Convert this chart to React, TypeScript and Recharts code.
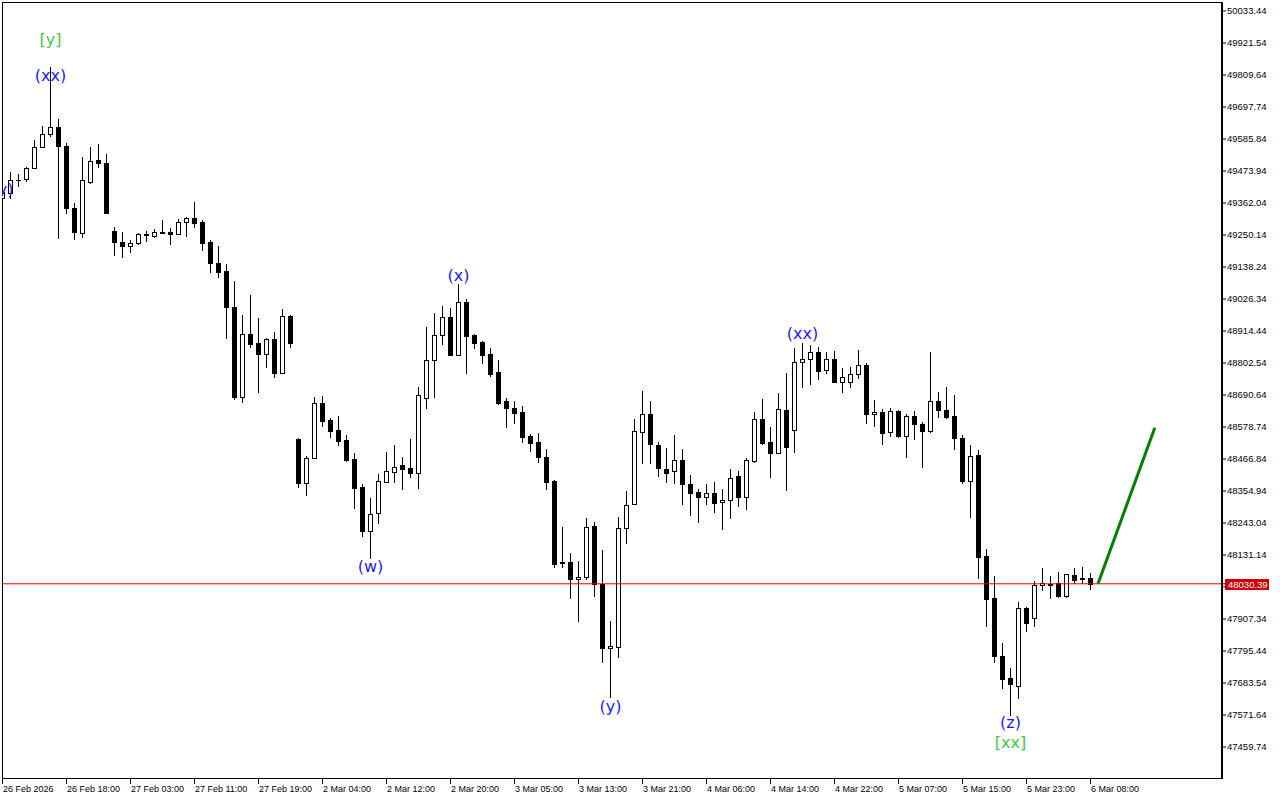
import React from 'react';
import { ComposedChart, Bar, XAxis, YAxis, ReferenceLine, ReferenceArea, Scatter } from 'recharts';

// H1 candles, index 0 = 26 Feb 2026 09:00
const opens = [
  49379.6, 49397.1, 49442.6, 49446.1, 49484.6, 49557.7, 49603.2, 49627.7, 49561.2, 49344.6,
  49257.1, 49435.6, 49512.6, 49502.1, 49264.1, 49225.6, 49211.6, 49222.1, 49251.9, 49246.6,
  49258.9, 49260.6, 49253.6, 49295.6, 49309.6, 49295.6, 49225.6, 49152.1, 49124.1, 48998.6,
  48683.6, 48904.1, 48872.6, 48834.1, 48886.6, 48767.6, 48967.1, 48536.6, 48383.0, 48470.5,
  48662.6, 48603.1, 48568.1, 48533.1, 48467.0, 48369.0, 48215.0, 48278.0, 48386.5, 48421.5,
  48446.0, 48435.5, 48418.0, 48680.1, 48813.1, 48900.6, 48963.6, 48830.6, 49016.1, 48900.6,
  48876.1, 48834.1, 48771.1, 48669.6, 48645.1, 48631.1, 48547.1, 48526.1, 48474.0, 48390.0,
  48108.3, 48106.5, 48047.0, 48054.0, 48232.5, 48029.5, 47805.9, 47809.4, 48225.5, 48309.5,
  48561.1, 48624.1, 48515.6, 48432.0, 48425.0, 48463.5, 48379.5, 48351.5, 48334.0, 48348.0,
  48316.5, 48323.5, 48407.5, 48334.0, 48460.0, 48606.6, 48526.1, 48488.0, 48638.1, 48568.1,
  48806.1, 48816.6, 48841.1, 48778.1, 48816.6, 48736.1, 48736.1, 48764.1, 48795.6, 48624.1,
  48631.1, 48561.1, 48634.6, 48547.1, 48617.1, 48589.1, 48564.6, 48669.6, 48638.1, 48617.1,
  48540.1, 48390.0, 48481.0, 48127.5, 47980.5, 47777.9, 47700.9, 47672.9, 47945.9, 47910.9,
  48026.0, 48029.5, 48033.0, 47987.5, 48061.0, 48050.5, 48050.5,
];
const highs = [
  49407.6, 49470.6, 49463.6, 49488.1, 49582.2, 49631.2, 49837.7, 49655.7, 49571.7, 49362.1,
  49523.1, 49557.7, 49568.2, 49533.6, 49278.1, 49260.6, 49232.6, 49257.1, 49264.1, 49271.1,
  49302.6, 49274.6, 49306.1, 49313.1, 49365.6, 49302.6, 49232.6, 49211.6, 49148.6, 49089.1,
  48970.6, 49040.1, 48960.1, 48890.1, 48911.1, 48991.6, 48970.6, 48540.1, 48477.5, 48683.6,
  48687.1, 48610.1, 48617.1, 48550.6, 48488.0, 48379.5, 48330.5, 48414.5, 48491.5, 48515.6,
  48474.0, 48536.6, 48718.6, 48928.6, 48977.6, 49002.1, 48995.1, 49078.6, 49026.6, 48902.4,
  48879.6, 48855.1, 48813.1, 48680.1, 48669.6, 48652.1, 48554.1, 48557.6, 48501.6, 48393.5,
  48229.0, 48138.0, 48110.0, 48260.5, 48246.5, 48148.5, 47900.4, 48264.0, 48355.0, 48606.6,
  48704.6, 48669.6, 48526.1, 48505.1, 48550.6, 48501.6, 48411.0, 48362.0, 48379.5, 48386.5,
  48362.0, 48432.0, 48425.0, 48470.5, 48631.1, 48676.6, 48578.6, 48697.6, 48767.6, 48855.1,
  48872.6, 48865.6, 48858.6, 48841.1, 48844.6, 48785.1, 48788.6, 48848.1, 48802.6, 48673.1,
  48641.6, 48645.1, 48638.1, 48624.1, 48634.6, 48596.1, 48841.1, 48701.1, 48718.6, 48690.6,
  48550.6, 48515.6, 48498.5, 48152.0, 48057.5, 47823.4, 47735.9, 47966.9, 47947.7, 48040.0,
  48085.5, 48057.5, 48071.5, 48066.3, 48085.5, 48089.0, 48068.0,
];
const lows = [
  49372.6, 49379.6, 49421.6, 49439.1, 49484.6, 49557.7, 49596.2, 49239.6, 49327.1, 49236.1,
  49243.1, 49432.1, 49488.1, 49325.4, 49180.1, 49173.1, 49190.6, 49218.6, 49229.1, 49243.1,
  49257.1, 49218.6, 49251.9, 49246.6, 49278.1, 49197.6, 49120.6, 49103.1, 48890.1, 48676.6,
  48666.1, 48858.6, 48701.1, 48788.6, 48753.6, 48765.9, 48858.6, 48369.0, 48341.0, 48468.8,
  48582.1, 48543.6, 48515.6, 48460.0, 48295.5, 48197.5, 48120.5, 48243.0, 48384.8, 48386.5,
  48362.0, 48404.0, 48365.5, 48645.1, 48683.6, 48869.1, 48828.9, 48828.9, 48767.6, 48855.1,
  48802.6, 48757.1, 48660.9, 48578.6, 48592.6, 48526.1, 48494.6, 48456.5, 48362.0, 48089.0,
  48089.0, 47980.5, 47900.4, 48047.0, 47987.5, 47756.9, 47634.4, 47774.4, 48173.0, 48307.8,
  48453.0, 48453.0, 48407.5, 48386.5, 48383.0, 48309.5, 48271.0, 48246.5, 48309.5, 48281.5,
  48222.0, 48260.5, 48302.5, 48292.0, 48456.5, 48520.9, 48404.0, 48486.3, 48358.5, 48491.5,
  48718.6, 48729.1, 48746.6, 48767.6, 48734.4, 48701.1, 48718.6, 48750.1, 48592.6, 48582.1,
  48519.1, 48547.1, 48543.6, 48474.0, 48536.6, 48439.0, 48561.1, 48613.6, 48611.9, 48501.6,
  48383.0, 48264.0, 48050.5, 47882.9, 47756.9, 47665.9, 47571.4, 47630.9, 47865.4, 47882.9,
  48008.5, 47980.5, 47985.8, 47985.8, 48033.0, 48033.0, 48012.0,
];
const closes = [
  49400.6, 49442.6, 49440.9, 49484.6, 49557.7, 49603.2, 49627.7, 49561.2, 49344.6, 49260.6,
  49442.6, 49509.1, 49502.1, 49327.1, 49225.6, 49211.6, 49222.1, 49253.6, 49248.4, 49260.6,
  49260.6, 49253.6, 49295.6, 49309.6, 49292.1, 49222.1, 49152.1, 49120.6, 48998.6, 48683.6,
  48904.1, 48869.1, 48834.1, 48886.6, 48767.6, 48967.1, 48872.6, 48383.0, 48470.5, 48662.6,
  48599.6, 48564.6, 48529.6, 48463.5, 48365.5, 48215.0, 48274.5, 48390.0, 48425.0, 48439.0,
  48432.0, 48418.0, 48690.6, 48813.1, 48900.6, 48963.6, 48830.6, 49016.1, 48897.1, 48872.6,
  48830.6, 48764.1, 48662.6, 48645.1, 48627.6, 48543.6, 48522.6, 48474.0, 48386.5, 48099.5,
  48104.8, 48047.0, 48054.0, 48229.0, 48029.5, 47805.9, 47811.2, 48225.5, 48306.0, 48564.6,
  48624.1, 48519.1, 48435.5, 48418.0, 48463.5, 48379.5, 48348.0, 48334.0, 48348.0, 48313.0,
  48323.5, 48400.5, 48334.0, 48463.5, 48606.6, 48522.6, 48488.0, 48641.6, 48508.6, 48806.1,
  48816.6, 48841.1, 48774.6, 48816.6, 48736.1, 48753.6, 48764.1, 48795.6, 48624.1, 48631.1,
  48557.6, 48634.6, 48547.1, 48617.1, 48589.1, 48564.6, 48669.6, 48638.1, 48613.6, 48540.1,
  48390.0, 48477.5, 48124.0, 47977.0, 47777.9, 47697.4, 47679.9, 47945.9, 47893.4, 48026.0,
  48033.0, 48027.8, 47987.5, 48064.5, 48043.5, 48047.0, 48030.39,
];

const timeTickIndex = [0, 8, 16, 24, 32, 40, 48, 56, 64, 72, 80, 88, 96, 104, 112, 120, 128, 136];
const timeTickLabels = [
  '26 Feb 2026', '26 Feb 18:00', '27 Feb 03:00', '27 Feb 11:00', '27 Feb 19:00',
  '2 Mar 04:00', '2 Mar 12:00', '2 Mar 20:00', '3 Mar 05:00', '3 Mar 13:00',
  '3 Mar 21:00', '4 Mar 06:00', '4 Mar 14:00', '4 Mar 22:00', '5 Mar 07:00',
  '5 Mar 15:00', '5 Mar 23:00', '6 Mar 08:00',
];
const priceTicks = [
  50033.44, 49921.54, 49809.64, 49697.74, 49585.84, 49473.94, 49362.04, 49250.14,
  49138.24, 49026.34, 48914.44, 48802.54, 48690.64, 48578.74, 48466.84, 48354.94,
  48243.04, 48131.14, 48019.24, 47907.34, 47795.44, 47683.54, 47571.64, 47459.74,
];
const lastPrice = 48030.39;
const projectionK = [137, 144.1];
const projectionP = [48030.39, 48576.0];

const waveK = [6, 6, 0, 46, 57, 76, 100, 126, 126];
const waveP = [49932.2, 49806.2, 49407.6, 48092.5, 49110.1, 47602.9, 48904.1, 47546.9, 47476.9];
const waveText = ['[y]', '(xx)', '(y)', '(w)', '(x)', '(y)', '(xx)', '(z)', '[xx]'];
const waveDegree = ['major', 'minor', 'minor', 'minor', 'minor', 'minor', 'minor', 'minor', 'major'];

const X_DOMAIN: [number, number] = [0, 152.5];
const Y_DOMAIN: [number, number] = [47347.84, 50064.91];

const candles = opens.map((o, i) => ({ k: i, o, h: highs[i], l: lows[i], c: closes[i] }));
const waves = waveK.map((k, i) => ({ k, p: waveP[i], text: waveText[i], degree: waveDegree[i] }));
// the current-price tag is drawn as the last axis tick so it sits on top of the others
const axisTicks = [...priceTicks, lastPrice];

const UI_FONT = '"Liberation Sans", Arial, sans-serif';
const LABEL_FONT = '"DejaVu Sans", Verdana, sans-serif';

const Candle = (props: any) => {
  const { x, y, width, height, payload } = props;
  if (x == null || y == null) return null;
  const top = Math.min(y, y + height);
  const bot = Math.max(y, y + height);
  const { o, h, l, c } = payload;
  const span = h - l || 1;
  const toY = (v: number) => top + ((h - v) / span) * (bot - top);
  const cx = Math.round(x + width / 2);
  const wTop = Math.round(top);
  const wBot = Math.round(bot);
  const b1 = Math.round(toY(Math.max(o, c)));
  const b2 = Math.round(toY(Math.min(o, c)));
  const bull = c > o;
  return (
    <g>
      <rect x={cx} y={wTop} width={1} height={Math.max(1, wBot - wTop + 1)} fill="#000" />
      {bull ? (
        <rect x={cx - 1.5} y={b1 + 0.5} width={4} height={Math.max(1, b2 - b1)} fill="#fff" stroke="#000" strokeWidth={1} />
      ) : (
        <rect x={cx - 2} y={b1} width={5} height={Math.max(1, b2 - b1 + 1)} fill="#000" />
      )}
    </g>
  );
};

const WaveLabel = (props: any) => {
  const { cx, cy, payload } = props;
  if (cx == null || cy == null) return null;
  return (
    <text
      x={cx + 0.5}
      y={cy}
      textAnchor="middle"
      dominantBaseline="central"
      fontFamily={LABEL_FONT}
      fontSize={16}
      fill={payload.degree === 'major' ? '#3fc83f' : '#1a1aff'}
    >
      {payload.text}
    </text>
  );
};

const TimeTick = (props: any) => {
  const { x, y, payload } = props;
  const i = timeTickIndex.indexOf(payload.value);
  const lx = Math.round(x) + 0.5;
  return (
    <g>
      <line x1={lx} x2={lx} y1={y - 5} y2={y} stroke="#000" strokeWidth={1} />
      <text x={Math.round(x) + 1} y={y + 8} textAnchor="start" fontFamily={UI_FONT} fontSize={9} fill="#000">
        {i >= 0 ? timeTickLabels[i] : ''}
      </text>
    </g>
  );
};

const PriceTick = (props: any) => {
  const { x, y, payload } = props;
  const v = payload.value;
  if (v === lastPrice) {
    const yy = Math.round(y);
    return (
      <g>
        <rect x={x - 2} y={yy - 5} width={44} height={11} fill="#cc0000" />
        <text x={x + 1} y={yy + 3.5} fontFamily={UI_FONT} fontSize={9.5} fill="#fff">
          {v.toFixed(2)}
        </text>
      </g>
    );
  }
  return (
    <text x={x} y={y} dy="0.355em" textAnchor="start" fontFamily={UI_FONT} fontSize={9.5} fill="#000">
      {v.toFixed(2)}
    </text>
  );
};

const Frame = (props: any) => {
  const { x, y, width, height } = props;
  return <rect x={x + 0.5} y={y + 0.5} width={width - 1} height={height - 1} fill="none" stroke="#000" strokeWidth={1} />;
};

export default function App() {
  return (
    <div style={{ position: 'absolute', left: 0, top: 0, width: 1280, height: 800, background: '#fff' }}>
      <ComposedChart
        width={1280}
        height={800}
        data={candles}
        margin={{ top: 2, right: 0, bottom: 0, left: 2 }}
      >
        <XAxis
          dataKey="k"
          type="number"
          domain={X_DOMAIN}
          allowDataOverflow
          ticks={timeTickIndex}
          interval={0}
          height={21}
          axisLine={false}
          tickLine={false}
          tickSize={5}
          tickMargin={0}
          tick={<TimeTick />}
        />
        <YAxis
          type="number"
          orientation="right"
          domain={Y_DOMAIN}
          allowDataOverflow
          ticks={axisTicks}
          interval={0}
          width={58}
          axisLine={{ stroke: '#000', strokeWidth: 2 }}
          tickLine={{ stroke: '#000' }}
          tickSize={4}
          tickMargin={1}
          tick={<PriceTick />}
        />
        <ReferenceArea
          x1={X_DOMAIN[0]}
          x2={X_DOMAIN[1]}
          y1={Y_DOMAIN[0]}
          y2={Y_DOMAIN[1]}
          shape={<Frame />}
          ifOverflow="visible"
        />
        <ReferenceLine y={lastPrice} stroke="#e00000" strokeWidth={1} />
        <Bar
          dataKey={(d: any) => [d.l, d.h]}
          barSize={5}
          shape={<Candle />}
          isAnimationActive={false}
        />
        <ReferenceLine
          segment={[
            { x: projectionK[0], y: projectionP[0] },
            { x: projectionK[1], y: projectionP[1] },
          ]}
          stroke="#008000"
          strokeWidth={3}
          ifOverflow="visible"
        />
        <Scatter data={waves} dataKey="p" shape={<WaveLabel />} isAnimationActive={false} />
      </ComposedChart>
    </div>
  );
}
